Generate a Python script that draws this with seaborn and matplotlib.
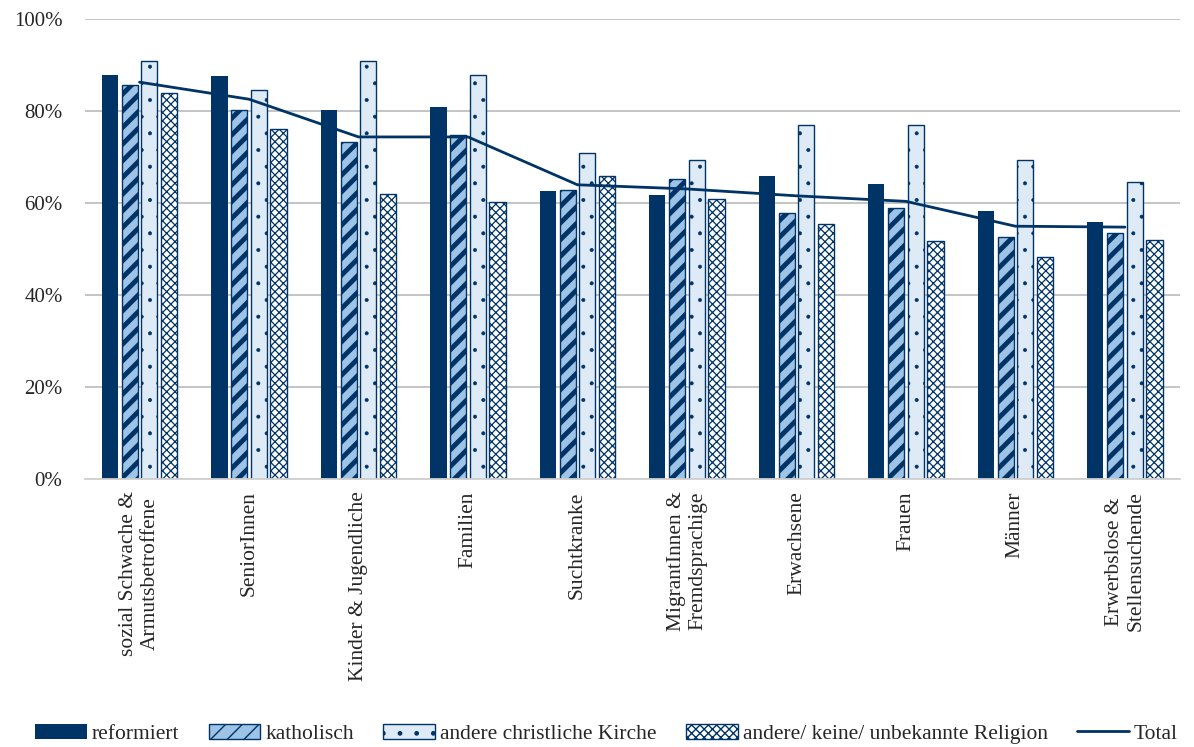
import numpy as np
import pandas as pd
import seaborn as sns
import matplotlib.pyplot as plt
from matplotlib.ticker import PercentFormatter
from matplotlib.patches import Patch
from matplotlib.lines import Line2D

# Daten (Anteile in %)
categories = ["sozial Schwache &\nArmutsbetroffene", "SeniorInnen", "Kinder & Jugendliche",
              "Familien", "Suchtkranke", "MigrantInnen &\nFremdsprachige", "Erwachsene",
              "Frauen", "Männer", "Erwerbslose &\nStellensuchende"]
series_names = ["reformiert", "katholisch", "andere christliche Kirche",
                "andere/ keine/ unbekannte Religion"]
reformiert = [87.8, 87.5, 80.1, 80.7, 62.6, 61.6, 65.9, 64.1, 58.3, 55.8]
katholisch = [85.6, 80.2, 73.3, 74.8, 62.8, 65.2, 57.8, 58.8, 52.6, 53.5]
andere_christ = [90.8, 84.6, 90.8, 87.7, 70.7, 69.2, 76.8, 76.8, 69.2, 64.6]
andere_keine = [83.8, 76.1, 61.9, 60.1, 65.8, 60.8, 55.4, 51.7, 48.1, 51.9]
total = [86.2, 82.5, 74.3, 74.3, 63.9, 63.0, 61.5, 60.3, 54.9, 54.7]

navy = '#003366'
fills = [navy, '#9dc3e6', '#deebf7', '#ffffff']
hatches = ['', '//', '.', 'xxxx']
hatch_lw = [1.0, 3.5, 0.4, 0.9]

df = pd.DataFrame({
    'Gruppe': categories * 4,
    'Religion': np.repeat(series_names, len(categories)),
    'Wert': np.array(reformiert + katholisch + andere_christ + andere_keine) / 100,
})

sns.set_theme(style='white')
plt.rcParams['font.family'] = ['Liberation Serif', 'DejaVu Serif']

fig = plt.figure(figsize=(11.94, 7.47), dpi=100)
ax = fig.add_axes([0.071, 0.359, 0.917, 0.616])

sns.barplot(data=df, x='Gruppe', y='Wert', hue='Religion', palette=fills,
            width=0.72, gap=0.18, ax=ax, legend=False, saturation=1)

for i, cont in enumerate(ax.containers):
    for bar in cont:
        bar.set_hatch(hatches[i])
        bar.set_edgecolor(navy)
        bar.set_linewidth(1.0 if i else 0)
        if hasattr(bar, 'set_hatch_linewidth'):
            bar.set_hatch_linewidth(hatch_lw[i])

sns.lineplot(x=np.arange(len(categories)), y=np.array(total) / 100, color=navy,
             linewidth=2.0, ax=ax)

ax.set_ylim(0, 1)
ax.set_xlim(-0.5, len(categories) - 0.5)
ax.yaxis.set_major_formatter(PercentFormatter(xmax=1, decimals=0))
ax.set_yticks(np.arange(0, 1.01, 0.2))
ax.grid(axis='y', color='#bfbfbf', linewidth=1.3)
ax.set_axisbelow(True)
for s in ['top', 'right', 'left']:
    ax.spines[s].set_visible(False)
ax.spines['bottom'].set_color('#d0d0d0')
ax.spines['bottom'].set_linewidth(1.3)
ax.set_xlabel('')
ax.set_ylabel('')
ax.tick_params(axis='y', length=0, labelsize=15, pad=16)
ax.tick_params(axis='x', length=0, labelsize=15.5, pad=9)
ax.set_xticks(np.arange(len(categories)))
ax.set_xticklabels(categories, rotation=90, ha='center', va='top', multialignment='center')

handles = []
for i, name in enumerate(series_names):
    p = Patch(facecolor=fills[i], edgecolor=navy, hatch=hatches[i],
              linewidth=1.0 if i else 0, label=name)
    if hasattr(p, 'set_hatch_linewidth'):
        p.set_hatch_linewidth(hatch_lw[i])
    handles.append(p)
handles.append(Line2D([], [], color=navy, linewidth=2.0, label='Total'))
fig.legend(handles=handles, loc='lower center', bbox_to_anchor=(0.508, -0.022), ncol=5,
           frameon=False, fontsize=15.5, handlelength=2.4, handleheight=0.75,
           handletextpad=0.25, columnspacing=1.35)

fig.savefig('out.png', dpi=100)
